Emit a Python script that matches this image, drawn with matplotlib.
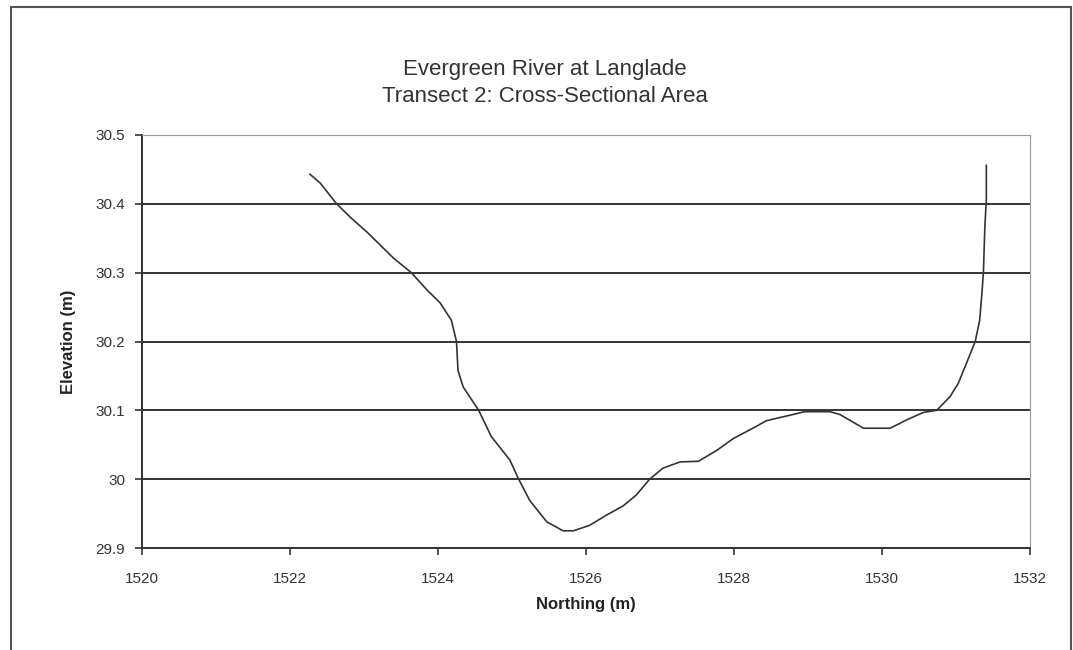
import numpy as np
import matplotlib.pyplot as plt
from matplotlib.patches import Rectangle

# transect profile
northing = [1522.27, 1522.41, 1522.63, 1522.83, 1523.04, 1523.22, 1523.40, 1523.64,
            1523.85, 1524.03, 1524.18, 1524.25, 1524.27, 1524.34, 1524.55, 1524.72,
            1524.97, 1525.09, 1525.24, 1525.47, 1525.69, 1525.83, 1526.05,
            1526.28, 1526.50, 1526.68, 1526.86, 1527.04, 1527.27, 1527.52, 1527.77,
            1527.99, 1528.22, 1528.44, 1528.76, 1528.95, 1529.30, 1529.43, 1529.75,
            1530.11, 1530.33, 1530.56, 1530.74, 1530.92, 1531.03, 1531.14, 1531.26,
            1531.32, 1531.35, 1531.37, 1531.39, 1531.41, 1531.41]
elevation = [30.443, 30.430, 30.400, 30.379, 30.359, 30.340, 30.321, 30.300,
             30.275, 30.256, 30.231, 30.200, 30.158, 30.134, 30.100, 30.062,
             30.028, 30.000, 29.969, 29.938, 29.925, 29.925, 29.933,
             29.948, 29.961, 29.977, 30.000, 30.016, 30.025, 30.026, 30.042,
             30.059, 30.072, 30.085, 30.093, 30.098, 30.098, 30.094, 30.074,
             30.074, 30.086, 30.097, 30.100, 30.120, 30.139, 30.168, 30.200,
             30.231, 30.270, 30.299, 30.367, 30.406, 30.456]

x_ticks = [1520, 1522, 1524, 1526, 1528, 1530, 1532]
y_ticks = [29.9, 30.0, 30.1, 30.2, 30.3, 30.4, 30.5]
y_labels = ["29.9", "30", "30.1", "30.2", "30.3", "30.4", "30.5"]

plt.rcParams['font.family'] = ['Liberation Sans', 'DejaVu Sans']

fig = plt.figure(figsize=(10.73, 6.5), dpi=100)
ax = fig.add_axes([142/1073, 1 - 548/650, (1030-142)/1073, (548-135)/650])

# outer chart frame
fig.patches.append(Rectangle((11/1073, -0.02), 1060/1073, 1.02 - 7/650,
                             transform=fig.transFigure, fill=False,
                             edgecolor='#555555', linewidth=1.5))

for yv in y_ticks[1:-1]:
    ax.axhline(yv, color='#333333', linewidth=1.4, zorder=1)

ax.plot(northing, elevation, color='#333333', linewidth=1.2, zorder=2)

ax.set_xlim(1520, 1532)
ax.set_ylim(29.9, 30.5)
ax.set_xticks(x_ticks)
ax.set_xticklabels([str(v) for v in x_ticks])
ax.set_yticks(y_ticks)
ax.set_yticklabels(y_labels)

ax.spines['left'].set_color('#333333')
ax.spines['bottom'].set_color('#333333')
ax.spines['left'].set_linewidth(1.4)
ax.spines['bottom'].set_linewidth(1.4)
ax.spines['top'].set_color('#999999')
ax.spines['right'].set_color('#999999')
ax.tick_params(axis='both', direction='out', length=5, width=1.2, colors='#333333',
               labelsize=11, labelcolor='#333333')
ax.tick_params(axis='x', pad=12)
ax.tick_params(axis='y', pad=7)

ax.set_xlabel("Northing (m)", fontsize=12, fontweight='bold', color='#222222', labelpad=8)
ax.set_ylabel("Elevation (m)", fontsize=12, fontweight='bold', color='#222222', labelpad=14)

fig.text(545/1073, 1 - 69/650, "Evergreen River at Langlade", ha='center', va='center',
         fontsize=16, color='#333333')
fig.text(545/1073, 1 - 96/650, "Transect 2: Cross-Sectional Area", ha='center', va='center',
         fontsize=16, color='#333333')

fig.savefig("out.png", dpi=100)
